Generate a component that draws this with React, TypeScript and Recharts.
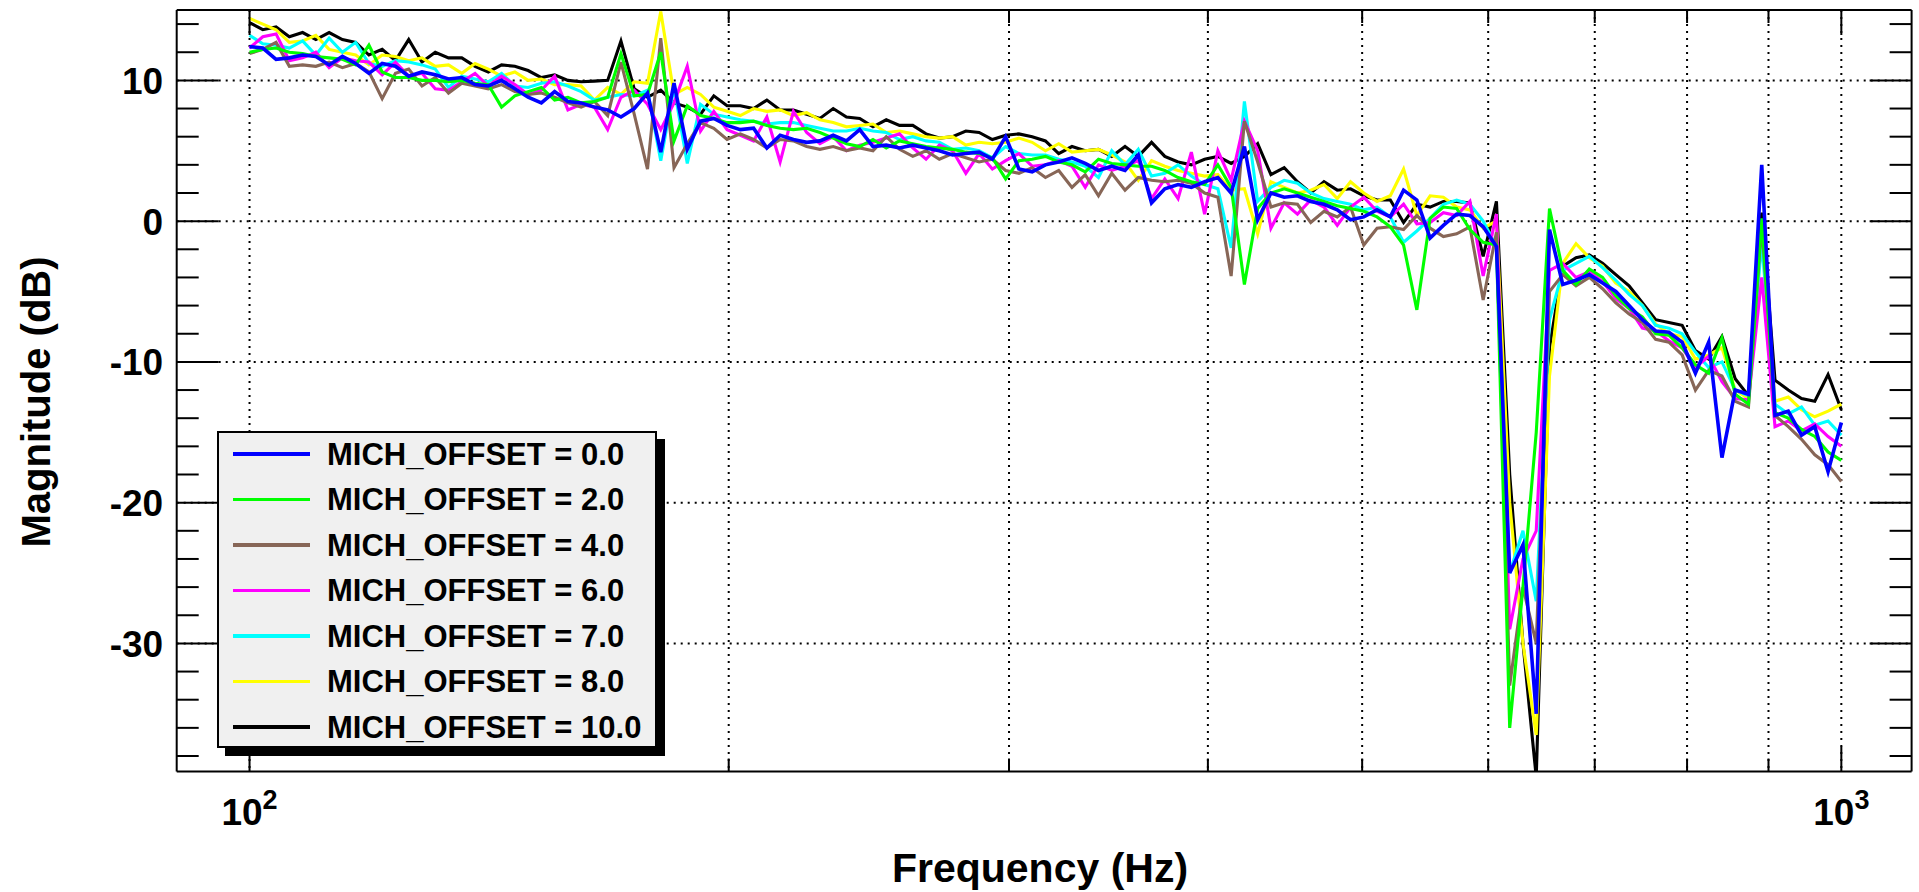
import { CartesianGrid, Legend, Line, LineChart, XAxis, YAxis } from "recharts"

const FONT = "'Liberation Sans', Arial, Helvetica, sans-serif"

// magnitude (dB) per offset, sampled at 120 points per decade from 100 Hz to 1 kHz
const MICH_0 = [
  12.4, 12.3, 11.5, 11.6, 11.8, 11.7, 11.1, 11.7, 11.2, 10.5,
  11.2, 11.0, 10.3, 10.6, 10.4, 10.1, 10.2, 9.7, 9.6, 10.0,
  9.4, 8.8, 8.4, 9.2, 8.5, 8.4, 8.1, 7.9, 7.4, 8.0,
  9.1, 4.9, 9.8, 5.1, 7.1, 7.3, 6.8, 6.5, 6.6, 5.2,
  6.1, 5.8, 5.6, 5.7, 6.1, 5.7, 6.5, 5.3, 5.4, 5.2,
  5.4, 5.2, 5.0, 4.7, 4.8, 4.9, 4.4, 6.0, 3.7, 3.5,
  4.0, 4.2, 4.5, 4.1, 3.6, 3.9, 3.6, 4.7, 1.3, 2.3,
  2.6, 2.4, 2.8, 3.1, 2.0, 5.3, 0.1, 2.0, 1.7, 1.8,
  1.4, 1.2, 0.8, 0.1, 0.3, 0.8, 0.3, 2.2, 1.5, -1.2,
  -0.3, 0.5, 0.4, -0.4, -1.8, -25, -23, -35, -0.6, -4.5,
  -4.2, -3.8, -4.4, -5.0, -6.0, -7.0, -7.8, -7.9, -8.6, -10.8,
  -8.6, -16.8, -12.0, -12.3, 4.0, -13.8, -13.5, -15.2, -14.6, -17.8,
  -14.3,
]

const MICH_2 = [
  12.0, 12.2, 12.3, 12.0, 11.9, 11.7, 11.6, 11.5, 11.1, 12.5,
  10.6, 10.2, 10.2, 10.0, 10.0, 9.9, 10.0, 9.8, 9.7, 8.1,
  8.9, 9.2, 9.5, 8.6, 8.8, 8.4, 8.5, 8.8, 11.9, 8.9,
  9.0, 12.0, 5.7, 8.2, 7.5, 7.3, 7.0, 7.0, 7.1, 6.8,
  6.6, 6.5, 6.6, 6.3, 5.9, 5.5, 5.3, 5.8, 5.2, 5.7,
  5.5, 5.3, 5.2, 5.1, 4.9, 4.8, 4.5, 3.0, 4.3, 4.4,
  4.6, 4.2, 4.0, 3.5, 4.4, 4.1, 4.0, 3.9, 3.9, 3.6,
  3.1, 2.8, 2.6, 4.0, 2.4, -4.5, 0.9, 2.0, 2.3, 2.0,
  1.7, 1.4, 1.1, 0.9, 0.7, 0.3, -0.4, -1.7, -6.3, 0.2,
  1.0, 0.9, -0.6, -1.5, -1.7, -36, -26, -15, 0.9, -3.5,
  -4.5, -3.4, -4.0, -5.3, -6.2, -6.8, -8.0, -8.1, -9.0, -10.2,
  -10.8, -8.3, -12.3, -13.0, 0.2, -13.6, -14.0, -14.8, -15.3, -16.4,
  -17.0,
]

const MICH_4 = [
  11.9, 12.2, 12.7, 11.0, 11.1, 11.0, 11.3, 10.9, 11.2, 10.6,
  8.7, 10.5, 10.8, 9.6, 10.2, 9.1, 9.8, 9.6, 9.4, 9.7,
  9.2, 9.0, 9.1, 8.8, 8.4, 8.1, 8.5, 7.5, 11.3, 7.6,
  3.7, 13.0, 3.8, 5.5, 7.0, 6.6, 5.8, 6.2, 5.8, 5.2,
  5.8, 5.7, 5.3, 5.1, 5.3, 5.0, 5.2, 5.0, 6.0, 5.1,
  4.6, 5.0, 4.4, 4.8, 4.5, 4.2, 4.4, 3.6, 3.4, 3.8,
  3.1, 3.6, 2.4, 3.3, 1.8, 3.4, 2.2, 3.1, 2.9, 2.8,
  2.9, 2.7, 2.0, 1.7, -3.9, 7.1, 4.2, 1.0, 1.3, 1.2,
  -0.1, 0.7, 0.3, 1.0, -1.7, -0.5, -0.4, -0.6, 0.4, -0.5,
  -1.1, -0.9, -0.4, -5.6, -0.8, -33, -26, -30, -5, -3.8,
  -4.6, -4.0, -4.8, -5.8, -6.6, -7.2, -8.4, -8.6, -9.5, -12.0,
  -10.6, -11.0, -12.8, -13.2, -0.2, -13.8, -14.6, -15.5, -16.6, -17.3,
  -18.5,
]

const MICH_6 = [
  12.3, 13.1, 13.3, 11.4, 11.6, 12.0, 10.9, 11.6, 11.4, 11.3,
  10.4, 11.3, 10.3, 10.5, 9.4, 9.3, 9.9, 10.5, 9.6, 10.3,
  9.7, 9.0, 9.3, 10.3, 7.9, 8.3, 8.1, 6.5, 8.8, 9.3,
  8.3, 6.5, 8.4, 11.0, 6.4, 7.8, 6.5, 6.1, 5.7, 7.4,
  4.2, 7.8, 6.3, 5.5, 6.0, 5.0, 5.4, 5.6, 5.9, 6.2,
  5.2, 4.4, 5.4, 5.0, 3.4, 4.8, 3.7, 4.3, 4.8, 3.9,
  4.0, 4.3, 3.9, 2.4, 4.0, 3.6, 3.9, 4.3, 1.6, 3.0,
  1.6, 4.9, 0.5, 5.0, 2.9, 7.1, 5.0, -0.5, 1.3, 0.5,
  1.5, 1.0, -0.3, 1.0, 1.7, 0.7, 0.3, 1.2, -0.2, -0.1,
  0.6, 0.4, 1.4, -3.9, 0.5, -29, -24, -22, -3.5, -3.0,
  -4.0, -3.6, -4.3, -5.5, -6.2, -7.6, -7.8, -8.5, -9.0, -10.4,
  -9.6, -11.4, -12.6, -12.7, -4.0, -14.6, -14.2, -14.9, -14.4, -15.3,
  -16.0,
]

const MICH_7 = [
  13.2, 12.6, 12.5, 12.3, 12.8, 11.8, 13.0, 12.0, 12.7, 11.2,
  11.0, 11.4, 11.3, 11.1, 10.8, 9.5, 10.3, 10.1, 9.9, 10.5,
  9.6, 9.5, 9.8, 9.9, 9.6, 9.2, 8.6, 8.8, 9.0, 8.9,
  9.3, 4.3, 9.5, 4.1, 8.3, 7.6, 7.4, 7.2, 7.1, 6.9,
  7.0, 7.0, 6.8, 6.6, 6.4, 6.4, 6.6, 6.4, 6.3, 5.8,
  6.0, 5.7, 5.6, 5.1, 5.2, 5.0, 4.5, 5.3, 4.8, 4.7,
  4.7, 4.4, 4.2, 3.9, 3.1, 5.0, 4.0, 5.1, 3.2, 3.4,
  4.0, 3.2, 2.6, 2.3, -1.9, 8.5, 1.4, 2.4, 2.9, 2.7,
  2.0, 1.6, 1.4, 1.2, 0.8, 1.0, 0.3, -1.5, -0.7, 0.2,
  1.2, 1.5, 1.2, 0.0, -1.8, -25, -22, -27, -7, -3.5,
  -3.0, -2.5, -3.3, -4.2, -5.2, -6.0, -7.4, -7.6, -8.0, -9.3,
  -10.4, -10.0, -12.0, -12.4, -1.5, -13.0, -13.7, -13.2, -14.5, -14.2,
  -15.2,
]

const MICH_8 = [
  14.4, 14.0, 13.6, 12.7, 12.8, 13.2, 12.2, 12.0, 11.8, 11.1,
  11.8, 11.7, 11.4, 11.6, 11.0, 11.1, 10.5, 11.2, 10.8, 10.3,
  10.6, 10.0, 10.1, 9.7, 9.7, 9.6, 8.6, 9.5, 9.0, 9.9,
  9.8, 14.9, 9.0, 9.5, 9.0, 8.1, 7.8, 7.5, 8.0, 7.8,
  7.9, 7.5, 7.7, 7.2, 7.0, 6.7, 6.8, 6.9, 6.3, 6.4,
  6.2, 6.0, 5.9, 6.0, 5.4, 5.6, 5.5, 5.6, 5.9, 5.6,
  5.0, 5.5, 4.9, 5.0, 5.1, 4.7, 4.2, 2.9, 4.3, 3.9,
  3.6, 3.4, 3.2, 3.3, 2.2, 2.3, -0.9, 2.8, 2.4, 2.0,
  2.2, 2.6, 1.6, 2.8, 2.0, 1.4, 1.8, 3.7, 0.4, 1.8,
  1.7, 1.0, 0.8, -0.5, 0.0, -20, -30, -36.5, -11, -3.0,
  -1.6, -2.6, -3.2, -4.4, -5.0, -6.0, -7.3, -8.0, -8.2, -9.8,
  -9.5, -9.0, -12.0, -12.6, -0.5, -12.8, -12.5, -13.4, -13.9, -13.5,
  -13.0,
]

const MICH_10 = [
  14.1, 13.6, 13.8, 13.1, 13.4, 12.9, 13.4, 12.9, 12.7, 11.8,
  12.2, 11.4, 12.9, 11.3, 12.0, 11.6, 11.6, 11.0, 10.6, 11.1,
  11.0, 10.7, 10.2, 10.4, 10.0, 9.9, 9.95, 10.0, 12.8, 9.4,
  8.8, 9.3, 8.4, 8.1, 7.6, 8.9, 8.2, 8.2, 8.0, 8.6,
  7.9, 7.9, 7.6, 7.3, 8.0, 7.4, 7.3, 6.7, 7.2, 6.8,
  6.8, 6.2, 5.9, 6.0, 6.4, 6.3, 5.8, 6.1, 6.2, 6.0,
  5.7, 4.8, 5.3, 5.0, 5.1, 4.6, 5.3, 4.6, 5.6, 4.6,
  4.2, 4.0, 4.4, 4.6, 4.1, 4.6, 5.5, 3.3, 3.8, 2.8,
  2.0, 2.8, 2.2, 2.3, 1.8, 1.5, 1.5, -0.1, 1.2, 1.0,
  1.4, 1.4, 1.3, -2.5, 1.4, -18, -30, -39.5, -9, -3.2,
  -2.6, -2.4, -3.0, -3.8, -4.6, -5.8, -7.0, -7.2, -7.4, -9.2,
  -9.8, -8.2, -11.2, -12.4, 0.6, -11.3, -12.0, -12.6, -12.8, -10.9,
  -13.4,
]

const SERIES = [
  { key: "m0", name: "MICH_OFFSET = 0.0", color: "#0000ff", values: MICH_0, width: 3.6 },
  { key: "m2", name: "MICH_OFFSET = 2.0", color: "#00ff00", values: MICH_2, width: 3.1 },
  { key: "m4", name: "MICH_OFFSET = 4.0", color: "#876657", values: MICH_4, width: 3.1 },
  { key: "m6", name: "MICH_OFFSET = 6.0", color: "#ff00ff", values: MICH_6, width: 3.1 },
  { key: "m7", name: "MICH_OFFSET = 7.0", color: "#00ffff", values: MICH_7, width: 3.1 },
  { key: "m8", name: "MICH_OFFSET = 8.0", color: "#ffff00", values: MICH_8, width: 3.1 },
  { key: "m10", name: "MICH_OFFSET = 10.0", color: "#000000", values: MICH_10, width: 3.1 },
]

const FREQS = MICH_0.map((_, i) => 100 * Math.pow(10, i / 120))

const X_TICKS = [100, 200, 300, 400, 500, 600, 700, 800, 900, 1000]
const X_LABELS: Record<number, string> = { 100: "2", 1000: "3" }
const Y_TICKS = [
  -38, -36, -34, -32, -30, -28, -26, -24, -22, -20, -18, -16, -14, -12,
  -10, -8, -6, -4, -2, 0, 2, 4, 6, 8, 10, 12, 14,
]
const Y_GRID = [-30, -20, -10, 0, 10]

const X_DOMAIN = [90, 1107]
const Y_DOMAIN = [-39.1, 15]

const data = FREQS.map((f, i) => {
  const row: Record<string, number> = { f }
  SERIES.forEach((s) => {
    row[s.key] = s.values[i]
  })
  return row
})

const frame = { stroke: "#000", strokeWidth: 2 }

function LeftTick(props: any) {
  const { x, y, payload } = props
  const v = payload.value
  const major = v % 10 === 0
  return (
    <g>
      <line x1={x} x2={x + (major ? 42 : 22)} y1={y} y2={y} stroke="#000" strokeWidth={2} />
      {major && (
        <text x={x - 13.5} y={y + 13.5} textAnchor="end" fontFamily={FONT} fontWeight="bold" fontSize={37} fill="#000">
          {v}
        </text>
      )}
    </g>
  )
}

function RightTick(props: any) {
  const { x, y, payload } = props
  const major = payload.value % 10 === 0
  return <line x1={x} x2={x - (major ? 42 : 22)} y1={y} y2={y} stroke="#000" strokeWidth={2} />
}

function TopTick(props: any) {
  const { x, y, payload } = props
  const decade = payload.value === 100 || payload.value === 1000
  return <line x1={x} x2={x} y1={y} y2={y + (decade ? 25 : 13)} stroke="#000" strokeWidth={2} />
}

function BottomTick(props: any) {
  const { x, y, payload } = props
  const exp = X_LABELS[payload.value]
  return (
    <g>
      <line x1={x} x2={x} y1={y} y2={y - (exp ? 25 : 13)} stroke="#000" strokeWidth={2} />
      {exp && (
        <text x={x} y={y + 53} textAnchor="middle" fontFamily={FONT} fontWeight="bold" fontSize={37} fill="#000">
          <tspan>10</tspan>
          <tspan dy={-16} fontSize={27}>
            {exp}
          </tspan>
        </text>
      )}
    </g>
  )
}

function LegendBox() {
  return (
    <div
      style={{
        width: 440,
        height: 317,
        boxSizing: "border-box",
        background: "#f0f0f0",
        border: "2px solid #000",
        boxShadow: "8px 8px 0 #000",
        position: "relative",
      }}
    >
      {SERIES.map((s, i) => (
        <div
          key={s.key}
          style={{
            position: "absolute",
            left: 0,
            top: 21 + i * 45.5 - 20,
            height: 40,
            display: "flex",
            alignItems: "center",
          }}
        >
          <div style={{ marginLeft: 14, width: 77, height: 3.5, background: s.color }} />
          <span
            style={{
              marginLeft: 17,
              fontFamily: FONT,
              fontWeight: "bold",
              fontSize: 31,
              lineHeight: 1,
              color: "#000",
              whiteSpace: "nowrap",
            }}
          >
            {s.name}
          </span>
        </div>
      ))}
    </div>
  )
}

export default function App() {
  return (
    <div style={{ position: "absolute", left: 0, top: 0, width: 1919, height: 892, background: "#fff" }}>
      <LineChart width={1919} height={892} data={data} margin={{ top: 0, right: 0, bottom: 0, left: 0 }}>
        <CartesianGrid
          horizontalValues={Y_GRID}
          verticalValues={X_TICKS}
          stroke="#000"
          strokeWidth={2}
          strokeDasharray="2 5"
        />
        <XAxis
          dataKey="f"
          type="number"
          scale="log"
          domain={X_DOMAIN}
          allowDataOverflow
          ticks={X_TICKS}
          interval={0}
          height={120.5}
          tickSize={0}
          tickMargin={0}
          tickLine={false}
          axisLine={frame}
          tick={<BottomTick />}
          label={{
            content: () => (
              <text x={1040} y={882} textAnchor="middle" fontFamily={FONT} fontWeight="bold" fontSize={41} fill="#000">
                Frequency (Hz)
              </text>
            ),
          }}
        />
        <XAxis
          xAxisId="top"
          orientation="top"
          dataKey="f"
          type="number"
          scale="log"
          domain={X_DOMAIN}
          allowDataOverflow
          ticks={X_TICKS}
          interval={0}
          height={10}
          tickSize={0}
          tickMargin={0}
          tickLine={false}
          axisLine={frame}
          tick={<TopTick />}
        />
        <YAxis
          type="number"
          domain={Y_DOMAIN}
          allowDataOverflow
          ticks={Y_TICKS}
          interval={0}
          width={176.7}
          tickSize={0}
          tickMargin={0}
          tickLine={false}
          axisLine={frame}
          tick={<LeftTick />}
          label={{
            content: () => (
              <text
                transform="translate(50, 402) rotate(-90)"
                textAnchor="middle"
                fontFamily={FONT}
                fontWeight="bold"
                fontSize={40}
                fill="#000"
              >
                Magnitude (dB)
              </text>
            ),
          }}
        />
        <YAxis
          yAxisId="right"
          orientation="right"
          type="number"
          domain={Y_DOMAIN}
          allowDataOverflow
          ticks={Y_TICKS}
          interval={0}
          width={7.4}
          tickSize={0}
          tickMargin={0}
          tickLine={false}
          axisLine={frame}
          tick={<RightTick />}
        />
        {[...SERIES].reverse().map((s) => (
          <Line
            key={s.key}
            type="linear"
            dataKey={s.key}
            name={s.name}
            stroke={s.color}
            strokeWidth={s.width}
            dot={false}
            activeDot={false}
            isAnimationActive={false}
          />
        ))}
        <Legend
          layout="vertical"
          align="center"
          verticalAlign="middle"
          content={() => <LegendBox />}
          wrapperStyle={{ left: 217, top: 431, width: 440, height: 317 }}
        />
      </LineChart>
    </div>
  )
}
